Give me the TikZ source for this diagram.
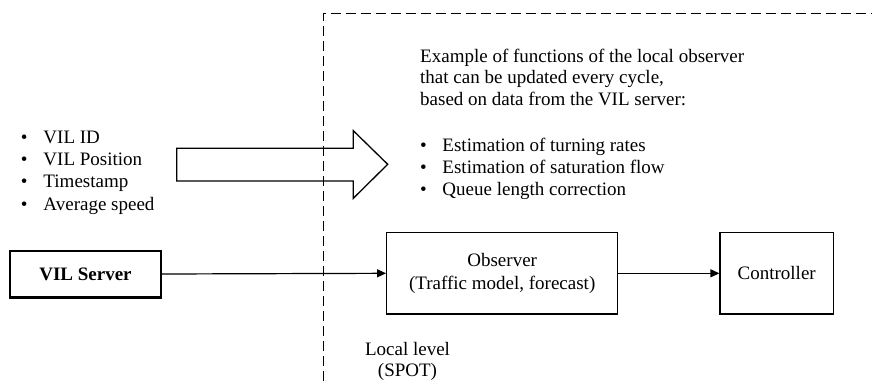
\documentclass[tikz,border=0pt]{standalone}
\usepackage{fontspec}
\setmainfont{Liberation Serif}
\usetikzlibrary{arrows.meta}
\begin{document}
\begin{tikzpicture}[x=1pt,y=-1pt,
  txt/.style={font=\fontsize{19}{22}\selectfont, inner sep=0pt},
  box/.style={draw, line width=1.3pt, inner sep=0pt, align=center, font=\fontsize{19}{22.5}\selectfont},
  conn/.style={line width=1.2pt, -{Triangle[length=9pt,width=8pt]}},
  bord/.style={line width=1.2pt, dash pattern=on 10pt off 5pt}]
\useasboundingbox (0,0) rectangle (872,381);
% dashed boundary of local level
\coordinate (db) at (323.3,381);
\coordinate (dc) at (323.3,13.3);
\coordinate (de) at (872,13.3);
\draw[bord] (db) -- (dc) -- (de);
% fat arrow
\draw[line width=1.3pt, line join=miter]
  (176.7,148.3) -- (353.3,148.3) -- (353.3,130.7) -- (387.7,164.3)
  -- (353.3,198.3) -- (353.3,181) -- (176.7,181) -- cycle;
% nodes
\node[box, line width=2.4pt, minimum width=151pt, minimum height=46.6pt, font=\fontsize{19}{22}\selectfont\bfseries] (server) at (85.5,274) {VIL Server};
\node[box, minimum width=231pt, minimum height=81.3pt] (observer) at (502.2,273.3) {Observer\\(Traffic model, forecast)};
\node[box, minimum width=113.3pt, minimum height=81.3pt] (controller) at (776.7,273.3) {Controller};
\draw[conn] (server.east) -- (observer.west);
\draw[conn] (observer.east) -- (controller.west);
% left list
\node[txt, font=\fontsize{19}{22.3}\selectfont, anchor=base west, align=left] (inputs) at (20.7,210)
  {\makebox[22.6pt][l]{\textbullet}VIL ID\\
   \makebox[22.6pt][l]{\textbullet}VIL Position\\
   \makebox[22.6pt][l]{\textbullet}Timestamp\\
   \makebox[22.6pt][l]{\textbullet}Average speed};
% right text
\node[txt, font=\fontsize{19}{21.6}\selectfont, anchor=base west, align=left] (functions) at (420,195)
  {Example of functions of the local observer\\
   that can be updated every cycle,\\
   based on data from the VIL server:\\[25pt]
   \makebox[22.3pt][l]{\textbullet}Estimation of turning rates\\
   \makebox[22.3pt][l]{\textbullet}Estimation of saturation flow\\
   \makebox[22.3pt][l]{\textbullet}Queue length correction};
\node[txt, font=\fontsize{19}{21}\selectfont, anchor=base, align=center] (local) at (407.5,376)
  {Local level\\(SPOT)};
\end{tikzpicture}
\end{document}
